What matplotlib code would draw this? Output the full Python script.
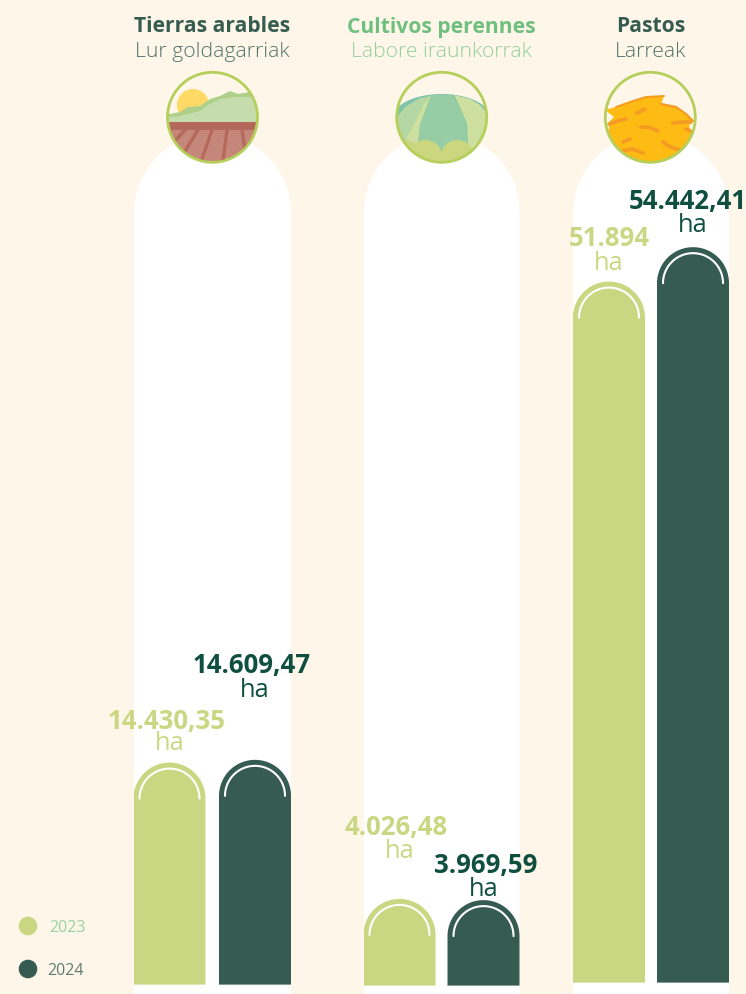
import numpy as np
import matplotlib
matplotlib.use("Agg")
import matplotlib.pyplot as plt
from matplotlib.patches import Circle, Polygon

W, H = 746, 995
BG = "#FDF6E9"
C23 = "#CAD782"
C24 = "#365B50"
T23 = "#CAD782"
T24 = "#0F4F3F"

years = ["2023", "2024"]
titles = ["Tierras arables", "Cultivos perennes", "Pastos"]
subtitles = ["Lur goldagarriak", "Labore iraunkorrak", "Larreak"]
tierras = [14430.35, 14609.47]
cultivos = [4026.48, 3969.59]
pastos = [51894, 54442.41]
tierras_lbl = ["14.430,35", "14.609,47"]
cultivos_lbl = ["4.026,48", "3.969,59"]
pastos_lbl = ["51.894", "54.442,41"]

plt.rcParams["font.family"] = ["Open Sans", "DejaVu Sans"]

fig = plt.figure(figsize=(W / 100, H / 100), dpi=100, facecolor=BG)
bg = fig.add_axes([0, 0, 1, 1])
bg.set_xlim(0, W)
bg.set_ylim(H, 0)
bg.axis("off")

ov = fig.add_axes([0, 0, 1, 1], zorder=5)
ov.set_xlim(0, W)
ov.set_ylim(H, 0)
ov.axis("off")
ov.patch.set_alpha(0)


def arch_path(l, r, top, bottom):
    rad = (r - l) / 2
    cx, cy = (l + r) / 2, top + rad
    t = np.linspace(np.pi, 2 * np.pi, 80)
    xs = cx + rad * np.cos(t)
    ys = cy + rad * np.sin(t)
    return np.column_stack([np.r_[l, xs, r], np.r_[bottom, ys, bottom]])


panels = [
    (133.5, 291.0, 985.6, 222.0 / 14430.35, tierras, tierras_lbl,
     [(166.5, 721, 169.5, 743.5), (251.5, 666, 254.5, 690.5)]),
    (363.5, 519.5, 986.6, 86.7 / 4026.48, cultivos, cultivos_lbl,
     [(396, 827, 399.5, 851.5), (486, 865, 483.5, 889.5)]),
    (573.0, 729.0, 983.6, 701.0 / 51894, pastos, pastos_lbl,
     [(609, 239, 608.5, 263.5), (688, 202, 692.5, 226)]),
]

for (l, r, *_rest) in panels:
    bg.add_patch(Polygon(arch_path(l + 0.5, r, 135, H + 5), closed=True, fc="white", ec="none", zorder=1))

BW = 72.0
for l, r, base, scale, vals, lbls, pos in panels:
    ax = fig.add_axes([l / W, 1 - base / H, (r - l) / W, base / H], zorder=3)
    ax.patch.set_alpha(0)
    ax.axis("off")
    spacing = (r - l - BW)
    w = BW / spacing
    ax.set_xlim(-w / 2, 1 + w / 2)
    ax.set_ylim(0, base / scale)
    rad_y = (BW / 2) / scale
    t = np.linspace(np.pi, 0, 80)
    for i, (v, col) in enumerate(zip(vals, [C23, C24])):
        xs = i + (w / 2) * np.cos(t)
        ys = v - rad_y + rad_y * np.sin(t)
        verts = np.column_stack([np.r_[i - w / 2, xs, i + w / 2], np.r_[0, ys, 0]])
        ax.add_patch(Polygon(verts, closed=True, fc=col, ec="none", zorder=2))
        k = 30.0 / 36.0
        ax.plot(i + (w / 2) * k * np.cos(t), v - rad_y + rad_y * k * np.sin(t),
                color="white", lw=1.5, solid_capstyle="round", zorder=3)
    for lbl, p, tc in zip(lbls, pos, [T23, T24]):
        tx, ty, hx, hy = p
        ov.text(tx, ty, lbl, ha="center", va="center", fontsize=18.5, fontweight="bold", color=tc, zorder=9)
        ov.text(hx, hy, "ha", ha="center", va="center", fontsize=18.4, color=tc, zorder=9)

# headers
heads = [(212.5, "#365B50", "#4F7268"), (441.7, "#6FBF7F", "#93D09C"), (650.5, "#365B50", "#4F7268")]
for (cx, c1, c2), a, b in zip(heads, titles, subtitles):
    ov.text(cx, 27, a, ha="center", va="center", fontsize=15.1, fontweight="bold", color=c1)
    ov.text(cx, 52, b, ha="center", va="center", fontsize=15.2, fontweight="light", color=c2)

# legend
for y, col, tcol, lab, tx in [(927, C23, "#9AD3A3", years[0], 67.5), (970, C24, "#5C7C72", years[1], 65)]:
    ov.add_patch(Circle((28, y), 9.3, fc=col, ec="none"))
    ov.text(tx, y + 1, lab, ha="center", va="center", fontsize=11.5, color=tcol)

RING = "#B5CF5A"


def icon_base(cx, cy=118.3, r=45):
    ov.add_patch(Circle((cx, cy), r, fc=BG, ec="none", zorder=4))
    return Circle((cx, cy), r, transform=ov.transData)


def ring(cx, cy=118.3, r=45):
    ov.add_patch(Circle((cx, cy), r, fc="none", ec=RING, lw=2.0, zorder=8))


def poly(pts, col, clip, z=5):
    p = Polygon(pts, closed=True, fc=col, ec="none", zorder=z)
    ov.add_patch(p)
    p.set_clip_path(clip)
    return p


def stroke(xs, ys, col, lw, clip, z=7):
    ln, = ov.plot(xs, ys, color=col, lw=lw, solid_capstyle="round", zorder=z)
    ln.set_clip_path(clip)


# icon 1
cx = 212.5
c = icon_base(cx)
s = Circle((193, 106), 16, fc="#FFD966", ec="none", zorder=5)
ov.add_patch(s)
s.set_clip_path(c)
poly([(165, 116), (170, 115), (180, 113), (188, 108), (200, 107), (210, 100), (220, 97), (230, 92), (238, 95), (250, 93), (262, 95), (262, 124), (165, 124)], "#AFD08A", c, 5)
poly([(165, 118), (170, 118), (180, 117), (188, 115), (200, 112), (210, 105), (220, 100), (233, 98), (247, 98), (262, 97), (262, 124), (165, 124)], "#C5DDAC", c, 5.5)
poly([(165, 123.3), (260, 123.3), (260, 165), (165, 165)], "#C4877A", c, 6)
poly([(165, 123.3), (260, 123.3), (260, 131), (165, 131)], "#B5695A", c, 6.2)
for x0, y1, x1 in [(185, 140, 176.7), (198, 152, 185), (212, 160, 202), (227, 162, 223), (242, 150, 245)]:
    stroke([x0, x1], [131, y1], "#B5695A", 2.4, c, 6.5)
ring(cx)

# icon 2
cx = 441.7
c = icon_base(cx)
th = np.linspace(np.pi, 0, 60)
dome = np.column_stack([cx + 48 * np.cos(th), 118 - 23 * np.sin(th)])
poly(np.vstack([dome, [(cx + 48, 170), (cx - 48, 170)]]), "#7FC4A8", c, 5)
poly([(398, 117), (405, 108), (420, 99), (430, 97), (420, 120), (414, 145), (398, 145)], "#B4D7A4", c, 5.2)
poly([(406, 140), (414, 125), (424, 105), (430, 97), (434, 96), (425, 120), (417, 148)], "#CDE0A0", c, 5.3)
poly([(454, 96), (470, 100), (480, 106), (486, 113), (488, 125), (486, 150), (468, 150), (467, 125), (460, 108)], "#CDE0A0", c, 5.3)
poly([(431, 96), (452, 96), (460, 108), (466, 125), (467, 150), (417, 150), (420, 125)], "#97CDA4", c, 5.4)
poly([(398, 170), (398, 143), (408, 141), (417, 146)], "#CBD77F", c, 5.6)
for ccx in (425.5, 457.5):
    e = Circle((ccx, 158), 17, fc="#CBD77F", ec="none", zorder=5.7)
    ov.add_patch(e)
    e.set_clip_path(c)
poly([(398, 165), (485, 165), (485, 175), (398, 175)], "#CBD77F", c, 5.7)
ring(cx)

# icon 3
cx = 650.3
c = icon_base(cx)
hay = [(604, 110), (608, 110), (616, 108), (633, 102), (646, 98), (664, 97), (661, 105), (676, 108), (686, 115), (693, 122),
       (689, 127), (692, 135), (690, 145), (670, 170), (630, 170), (606, 135), (609, 130), (609, 123), (614, 118)]
poly(hay, "#FDBB13", c, 5)
stroke([616, 633, 646, 664], [108, 102, 98, 97], "#F59A23", 1.4, c, 6)
stroke([661, 676, 686, 693], [105, 108, 115, 122], "#F59A23", 1.6, c, 6)
for xs, ys in [
    ([609, 618, 626], [125, 122, 120]),
    ([637, 645], [114, 110]),
    ([641, 650, 658], [128, 128.5, 132]),
    ([673, 682, 691], [124, 123, 123]),
    ([686, 692], [130, 133]),
    ([623, 630], [143, 140]),
    ([623, 632, 643], [152, 150, 154]),
    ([663, 670, 680], [143, 148, 151]),
]:
    stroke(xs, ys, "#F59A23", 2.6, c, 7)
ring(cx)

fig.savefig("out.png", dpi=100, facecolor=BG)
